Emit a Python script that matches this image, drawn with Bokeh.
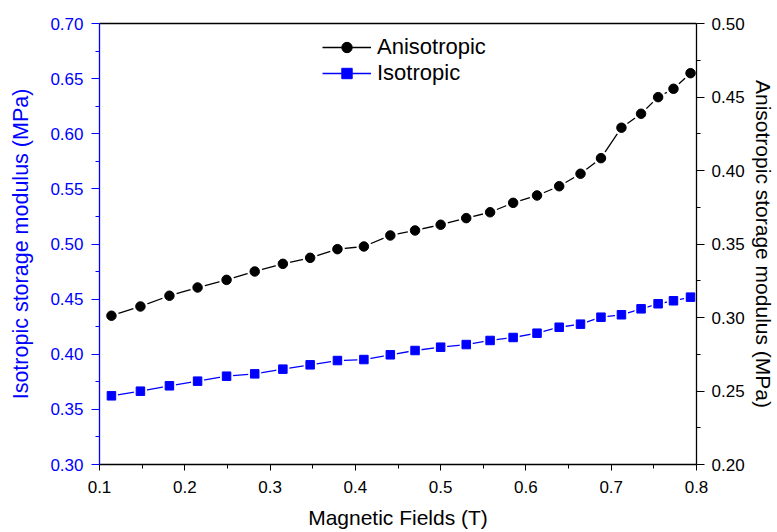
from bokeh.plotting import figure
from bokeh.models import (LinearAxis, Range1d, NumeralTickFormatter,
                          Legend, LegendItem, FixedTicker)
from bokeh.embed import file_html
from bokeh.resources import INLINE

# ---- data ----
field = [0.114, 0.148, 0.182, 0.215, 0.249, 0.282, 0.315, 0.347, 0.379, 0.410,
         0.441, 0.470, 0.500, 0.530, 0.558, 0.585, 0.613, 0.639, 0.664, 0.688,
         0.712, 0.735, 0.755, 0.773, 0.793]
isotropic = [0.3623, 0.3665, 0.3714, 0.3756, 0.3801, 0.3822, 0.3865, 0.3904, 0.3943, 0.3952,
             0.3995, 0.4034, 0.4064, 0.4088, 0.4125, 0.4152, 0.4191, 0.4245, 0.4273, 0.4336,
             0.4358, 0.4412, 0.4458, 0.4485, 0.4518]
anisotropic = [0.3012, 0.3075, 0.3148, 0.3204, 0.3256, 0.3313, 0.3365, 0.3406, 0.3465, 0.3483,
               0.3558, 0.3592, 0.3631, 0.3676, 0.3716, 0.3780, 0.3830, 0.3893, 0.3978, 0.4084,
               0.4291, 0.4386, 0.4499, 0.4556, 0.4662]

x_ticks = [0.1, 0.2, 0.3, 0.4, 0.5, 0.6, 0.7, 0.8]
x_minor = [0.15, 0.25, 0.35, 0.45, 0.55, 0.65, 0.75]
left_ticks = [0.30, 0.35, 0.40, 0.45, 0.50, 0.55, 0.60, 0.65, 0.70]
left_minor = [0.325, 0.375, 0.425, 0.475, 0.525, 0.575, 0.625, 0.675]
right_ticks = [0.20, 0.25, 0.30, 0.35, 0.40, 0.45, 0.50]
right_minor = [0.225, 0.275, 0.325, 0.375, 0.425, 0.475]

BLUE = "#0000FF"
FONT = "Liberation Sans"

p = figure(width=777, height=532, output_backend="svg", toolbar_location=None,
           x_range=Range1d(0.1, 0.8), y_range=Range1d(0.3, 0.7),
           min_border_left=99, min_border_right=80, min_border_top=23, min_border_bottom=68,
           background_fill_color="white", border_fill_color="white")
p.extra_y_ranges = {"aniso": Range1d(0.2, 0.5)}
p.grid.visible = False
p.outline_line_color = None

# bottom axis
xa = p.xaxis[0]
xa.ticker = FixedTicker(ticks=x_ticks, minor_ticks=x_minor)
xa.formatter = NumeralTickFormatter(format="0.0")
xa.axis_label = "Magnetic Fields (T)"
xa.axis_label_text_font = FONT
xa.axis_label_text_font_size = "21px"
xa.axis_label_text_font_style = "normal"
xa.axis_label_text_color = "black"
xa.axis_label_standoff = 10
xa.major_label_text_font = FONT
xa.major_label_text_font_size = "17px"
xa.major_label_text_color = "black"
xa.major_label_standoff = 10
xa.major_tick_out = 6
xa.major_tick_in = 0
xa.minor_tick_out = 4
xa.minor_tick_in = 0
xa.axis_line_color = "black"
xa.axis_line_width = 1.3

# left axis
ya = p.yaxis[0]
ya.ticker = FixedTicker(ticks=left_ticks, minor_ticks=left_minor)
ya.formatter = NumeralTickFormatter(format="0.00")
ya.axis_label = "Isotropic storage modulus (MPa)"
ya.axis_label_text_color = BLUE
ya.axis_label_text_font = FONT
ya.axis_label_text_font_size = "21.5px"
ya.axis_label_text_font_style = "normal"
ya.axis_label_standoff = 14
ya.major_label_text_color = BLUE
ya.major_label_text_font = FONT
ya.major_label_text_font_size = "17px"
ya.major_label_standoff = 8
ya.axis_line_color = BLUE
ya.axis_line_width = 1.3
ya.major_tick_line_color = BLUE
ya.minor_tick_line_color = BLUE
ya.major_tick_out = 8
ya.major_tick_in = 0
ya.minor_tick_out = 4
ya.minor_tick_in = 0

# right axis
ra = LinearAxis(y_range_name="aniso",
                ticker=FixedTicker(ticks=right_ticks, minor_ticks=right_minor),
                formatter=NumeralTickFormatter(format="0.00"))
ra.axis_label = "Anisotropic storage modulus (MPa)"
ra.axis_label_text_font = FONT
ra.axis_label_text_font_size = "21px"
ra.axis_label_text_font_style = "normal"
ra.axis_label_text_color = "black"
ra.axis_label_standoff = 4
ra.major_label_text_font = FONT
ra.major_label_text_font_size = "17px"
ra.major_label_text_color = "black"
ra.major_label_standoff = 7
ra.axis_line_color = "black"
ra.axis_line_width = 1.3
ra.major_tick_out = 8
ra.major_tick_in = 0
ra.minor_tick_out = 4
ra.minor_tick_in = 0
p.add_layout(ra, "right")

# top border line
ta = LinearAxis(ticker=FixedTicker(ticks=[]), major_label_text_font_size="0px",
                major_tick_out=0, minor_tick_out=0, axis_line_color="black", axis_line_width=1.3)
p.add_layout(ta, "above")

# series (white halo markers give the gaps between line and symbol)
l_an = p.line(field, anisotropic, y_range_name="aniso", line_color="black", line_width=1.3)
h_an = p.scatter(field, anisotropic, y_range_name="aniso", marker="circle", size=15,
                 fill_color="white", line_color=None)
m_an = p.scatter(field, anisotropic, y_range_name="aniso", marker="circle", size=9.5,
                 fill_color="black", line_color="black")
l_is = p.line(field, isotropic, line_color=BLUE, line_width=1.3)
h_is = p.scatter(field, isotropic, marker="square", size=13,
                 fill_color="white", line_color=None)
m_is = p.scatter(field, isotropic, marker="square", size=8.5, fill_color=BLUE, line_color=BLUE)

legend = Legend(items=[LegendItem(label="Anisotropic", renderers=[l_an, h_an, m_an]),
                       LegendItem(label="Isotropic", renderers=[l_is, h_is, m_is])],
                location=(223, 378), orientation="vertical",
                glyph_width=49, glyph_height=26, label_height=26, spacing=0,
                padding=0, margin=0, label_standoff=6,
                label_text_font=FONT, label_text_font_size="22px", label_text_color="black",
                border_line_color=None, background_fill_alpha=0)
p.add_layout(legend, "center")

open("out.html", "w").write(file_html(p, INLINE))
